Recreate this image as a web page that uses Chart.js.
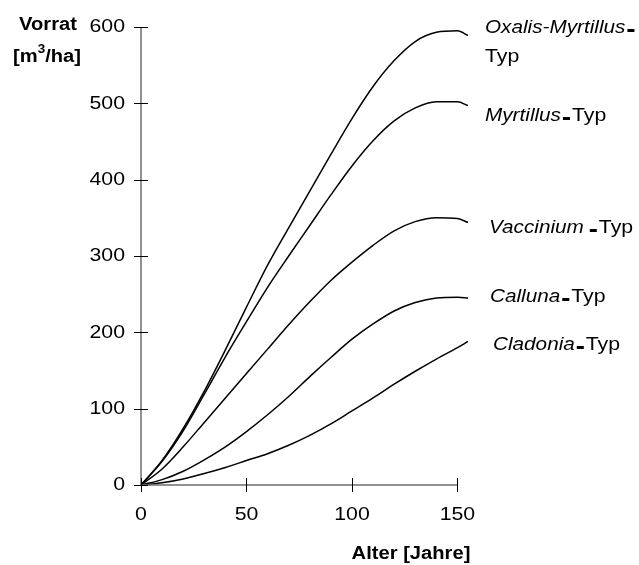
<!DOCTYPE html>
<html>
<head>
<meta charset="utf-8">
<script src="https://cdn.jsdelivr.net/npm/chart.js@4.4.0/dist/chart.umd.min.js"></script>
<style>
  html, body { margin: 0; padding: 0; background: #fff; }
  #wrap { width: 639px; height: 565px; }
</style>
</head>
<body>
<div id="wrap"><canvas id="chart" width="639" height="565"></canvas></div>
<script>
// Alter [Jahre]
const ages = [0, 10, 20, 30, 40, 50, 60, 70, 80, 90, 100, 110, 120, 130, 140, 150, 155];
// Vorrat [m3/ha]
const oxalisMyrtillus = [0, 32, 74, 123, 177, 233, 288, 337, 385, 433, 480, 522, 556, 581, 593, 595, 589];
const myrtillus = [0, 31, 71, 119, 168, 214, 259, 300, 340, 380, 418, 451, 477, 494, 502, 502, 497];
const vaccinium = [0, 21, 50, 82, 114, 146, 178, 210, 240, 268, 292, 314, 333, 345, 350, 349, 344];
const calluna = [0, 7, 18, 33, 50, 70, 92, 116, 142, 167, 191, 211, 228, 239, 245, 246, 245];
const cladonia = [0, 3, 8, 15, 23, 32, 41, 52, 65, 80, 97, 114, 132, 149, 165, 180, 188];
const xTicks = [0, 50, 100, 150];
const yTicks = [0, 100, 200, 300, 400, 500, 600];

const seriesLabels = [
    { name: 'Oxalis-Myrtillus', x: 485, y: 28, wrap: true },
    { name: 'Myrtillus', x: 485, y: 116 },
    { name: 'Vaccinium', x: 489, y: 228, gap: 6 },
    { name: 'Calluna', x: 490, y: 297 },
    { name: 'Cladonia', x: 493, y: 345 }
];

const FONT = '"Liberation Sans", Arial, sans-serif';
const SX = 1.12; // the original text is a bit wide

function toPoints(vals) {
    return vals.map((v, i) => ({ x: ages[i], y: v }));
}

function makeSet(label, vals) {
    return {
        label: label,
        data: toPoints(vals),
        borderColor: '#000',
        borderWidth: 1.5,
        pointRadius: 0,
        fill: false,
        cubicInterpolationMode: 'monotone'
    };
}

// draws text stretched a little, returns its width
function txt(ctx, s, x, y, font, align) {
    ctx.font = font;
    const w = ctx.measureText(s).width * SX;
    let left = x;
    if (align === 'center') left = x - w / 2;
    if (align === 'right') left = x - w;
    ctx.save();
    ctx.translate(left, y);
    ctx.scale(SX, 1);
    ctx.textAlign = 'left';
    ctx.fillText(s, 0, 0);
    ctx.restore();
    return w;
}

function textWidth(ctx, s, font) {
    ctx.font = font;
    return ctx.measureText(s).width * SX;
}

const axesPlugin = {
    id: 'axesPlugin',
    afterDraw(chart) {
        const ctx = chart.ctx;
        const xs = chart.scales.x;
        const ys = chart.scales.y;
        const x0 = xs.getPixelForValue(0);
        const y0 = ys.getPixelForValue(0);
        ctx.save();
        ctx.strokeStyle = '#6e6e6e';
        ctx.lineWidth = 1.5;
        ctx.beginPath();
        ctx.moveTo(x0, ys.getPixelForValue(600));
        ctx.lineTo(x0, y0);
        ctx.lineTo(xs.getPixelForValue(150), y0);
        ctx.stroke();
        ctx.strokeStyle = '#000';
        ctx.lineWidth = 1;
        ctx.beginPath();
        yTicks.forEach(t => {
            const py = Math.round(ys.getPixelForValue(t)) + 0.5;
            ctx.moveTo(x0 - 7, py);
            ctx.lineTo(x0 + 7, py);
        });
        xTicks.forEach(t => {
            const px = Math.round(xs.getPixelForValue(t)) + 0.5;
            ctx.moveTo(px, y0 - 7);
            ctx.lineTo(px, y0 + 7);
        });
        ctx.stroke();

        ctx.fillStyle = '#000';
        ctx.textBaseline = 'middle';
        const reg = '19px ' + FONT;
        const bold = 'bold 18px ' + FONT;
        const ital = 'italic 18.5px ' + FONT;

        // tick labels
        yTicks.forEach(t => txt(ctx, String(t), 125, ys.getPixelForValue(t), reg, 'right'));
        xTicks.forEach(t => txt(ctx, String(t), xs.getPixelForValue(t), 515, reg, 'center'));

        // y title
        txt(ctx, 'Vorrat', 48, 25, bold, 'center');
        const sup = 'bold 12px ' + FONT;
        const w = textWidth(ctx, '[m', bold) + textWidth(ctx, '3', sup) + textWidth(ctx, '/ha]', bold);
        let sx = 47 - w / 2;
        sx += txt(ctx, '[m', sx, 57, bold);
        sx += txt(ctx, '3', sx, 50, sup);
        txt(ctx, '/ha]', sx, 57, bold);
        // x title
        txt(ctx, 'Alter [Jahre]', 411, 554, bold, 'center');

        // series labels
        seriesLabels.forEach(l => {
            let px = l.x + txt(ctx, l.name, l.x, l.y, ital) + (l.gap || 2);
            ctx.fillRect(px, l.y + 1, 7, 3);
            px += 9;
            if (l.wrap) {
                txt(ctx, 'Typ', l.x, l.y + 29, reg);
            } else {
                txt(ctx, 'Typ', px, l.y, reg);
            }
        });
        ctx.restore();
    }
};

new Chart(document.getElementById('chart').getContext('2d'), {
    type: 'line',
    data: {
        datasets: [
            makeSet('Oxalis-Myrtillus-Typ', oxalisMyrtillus),
            makeSet('Myrtillus-Typ', myrtillus),
            makeSet('Vaccinium-Typ', vaccinium),
            makeSet('Calluna-Typ', calluna),
            makeSet('Cladonia-Typ', cladonia)
        ]
    },
    options: {
        responsive: false,
        animation: false,
        layout: { padding: { left: 0, right: 171, top: 27, bottom: 0 } },
        plugins: { legend: { display: false }, tooltip: { enabled: false } },
        scales: {
            x: {
                type: 'linear',
                min: 0,
                max: 155,
                grid: { display: false },
                border: { display: false },
                afterBuildTicks: s => { s.ticks = xTicks.map(v => ({ value: v })); },
                afterFit: s => { s.height = 80; },
                ticks: { display: false }
            },
            y: {
                min: 0,
                max: 600,
                grid: { display: false },
                border: { display: false },
                afterBuildTicks: s => { s.ticks = yTicks.map(v => ({ value: v })); },
                afterFit: s => { s.width = 141; },
                ticks: { display: false }
            }
        }
    },
    plugins: [axesPlugin]
});
</script>
</body>
</html>
